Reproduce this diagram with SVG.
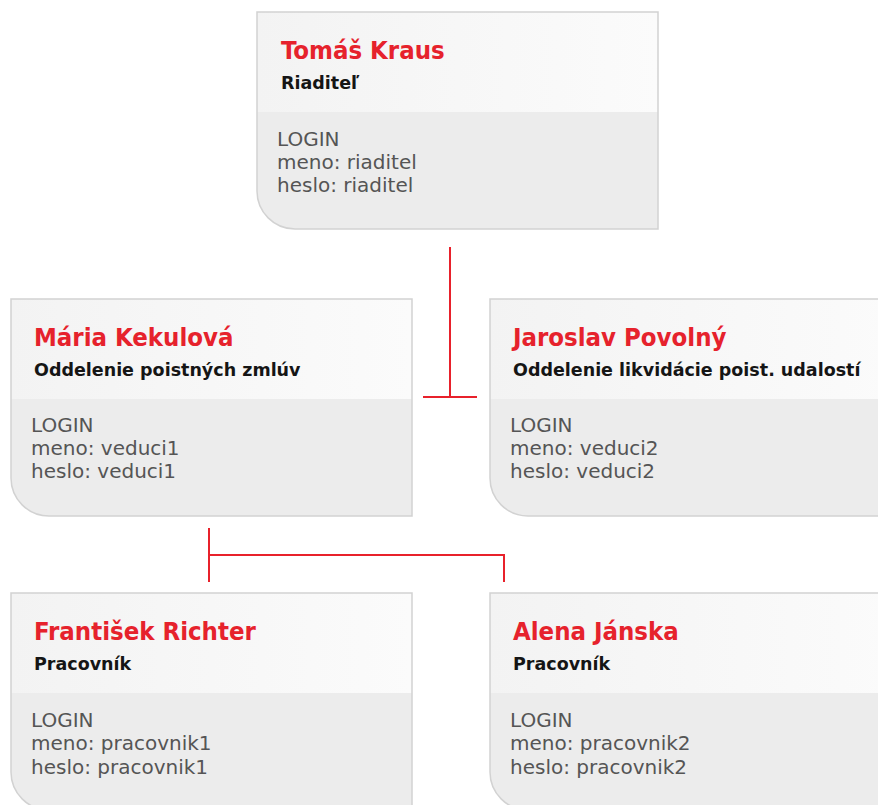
<svg xmlns="http://www.w3.org/2000/svg" width="878" height="805" viewBox="0 0 878 805">
<style>
.hdr{fill:url(#hg);}
.body{fill:#ececec;}
.frame{fill:none;stroke:#d2d2d2;stroke-width:1.5;}
.name{font-family:"DejaVu Sans Condensed","Liberation Sans",sans-serif;font-weight:bold;font-size:25.5px;fill:#e6222c;}
.sub{font-family:"DejaVu Sans",sans-serif;font-weight:bold;font-size:17.5px;fill:#151515;}
.login{font-family:"DejaVu Sans",sans-serif;font-size:20px;fill:#555555;}
.conn{fill:none;stroke:#e8212b;stroke-width:2;}
</style>
<defs>
<linearGradient id="hg" x1="0" y1="0" x2="1" y2="0">
<stop offset="0" stop-color="#f3f3f3"/>
<stop offset="1" stop-color="#fbfbfb"/>
</linearGradient>
</defs>
<rect x="0" y="0" width="878" height="805" fill="#ffffff"/>

<g id="connectors">
<path class="conn" d="M450,247 V397 M423,397 H477"/>
<path class="conn" d="M209,528 V582 M209,555 H504 V582"/>
</g>

<g id="node-tomas-kraus">
<rect class="hdr" x="257" y="12" width="401" height="100"/>
<path class="body" d="M257,112 H658 V229 H295 A38,38 0 0 1 257,191 Z"/>
<path class="frame" d="M257,12 H658 V229 H295 A38,38 0 0 1 257,191 Z"/>
<text class="name" x="281" y="59">Tomáš Kraus</text>
<text class="sub" x="281" y="89">Riaditeľ</text>
<text class="login" x="277" y="146">LOGIN</text>
<text class="login" x="277" y="169">meno: riaditel</text>
<text class="login" x="277" y="192">heslo: riaditel</text>
</g>

<g id="node-maria-kekulova">
<rect class="hdr" x="11" y="299" width="401" height="100"/>
<path class="body" d="M11,399 H412 V516 H49 A38,38 0 0 1 11,478 Z"/>
<path class="frame" d="M11,299 H412 V516 H49 A38,38 0 0 1 11,478 Z"/>
<text class="name" x="34" y="346">Mária Kekulová</text>
<text class="sub" x="34" y="376">Oddelenie poistných zmlúv</text>
<text class="login" x="31" y="432">LOGIN</text>
<text class="login" x="31" y="455">meno: veduci1</text>
<text class="login" x="31" y="478">heslo: veduci1</text>
</g>

<g id="node-jaroslav-povolny">
<rect class="hdr" x="490" y="299" width="401" height="100"/>
<path class="body" d="M490,399 H891 V516 H528 A38,38 0 0 1 490,478 Z"/>
<path class="frame" d="M490,299 H891 V516 H528 A38,38 0 0 1 490,478 Z"/>
<text class="name" x="513" y="346">Jaroslav Povolný</text>
<text class="sub" x="513" y="376">Oddelenie likvidácie poist. udalostí</text>
<text class="login" x="510" y="432">LOGIN</text>
<text class="login" x="510" y="455">meno: veduci2</text>
<text class="login" x="510" y="478">heslo: veduci2</text>
</g>

<g id="node-frantisek-richter">
<rect class="hdr" x="11" y="593" width="401" height="100"/>
<path class="body" d="M11,693 H412 V810 H49 A38,38 0 0 1 11,772 Z"/>
<path class="frame" d="M11,593 H412 V810 H49 A38,38 0 0 1 11,772 Z"/>
<text class="name" x="34" y="640">František Richter</text>
<text class="sub" x="34" y="670">Pracovník</text>
<text class="login" x="31" y="727">LOGIN</text>
<text class="login" x="31" y="750">meno: pracovnik1</text>
<text class="login" x="31" y="774">heslo: pracovnik1</text>
</g>

<g id="node-alena-janska">
<rect class="hdr" x="490" y="593" width="401" height="100"/>
<path class="body" d="M490,693 H891 V810 H528 A38,38 0 0 1 490,772 Z"/>
<path class="frame" d="M490,593 H891 V810 H528 A38,38 0 0 1 490,772 Z"/>
<text class="name" x="513" y="640">Alena Jánska</text>
<text class="sub" x="513" y="670">Pracovník</text>
<text class="login" x="510" y="727">LOGIN</text>
<text class="login" x="510" y="750">meno: pracovnik2</text>
<text class="login" x="510" y="774">heslo: pracovnik2</text>
</g>
</svg>
